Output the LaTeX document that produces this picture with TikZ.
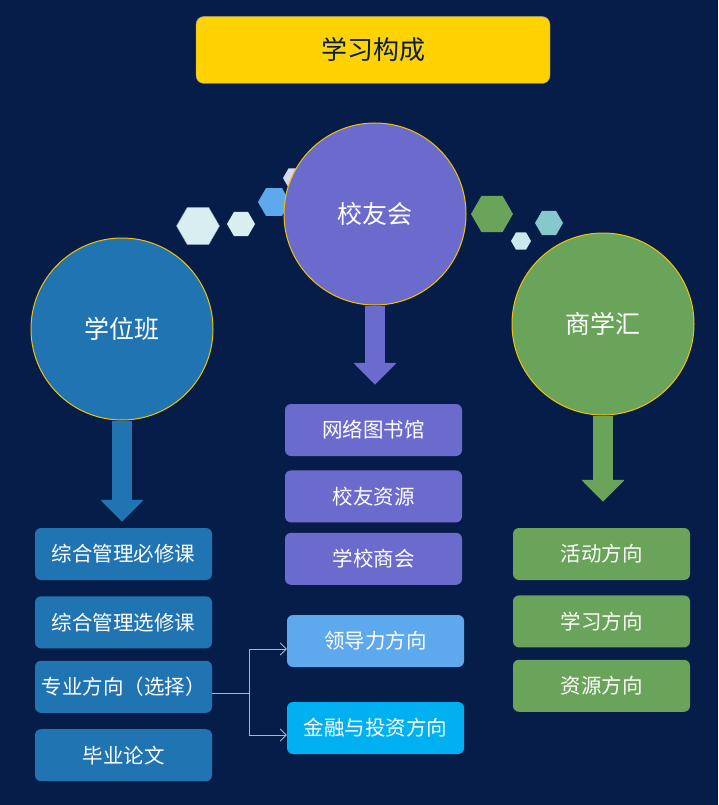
\documentclass[tikz,border=0pt]{standalone}
\usepackage{fontspec}
\setmainfont{Noto Sans CJK SC}
\usetikzlibrary{arrows.meta,positioning,shapes.geometric}
\definecolor{Navy}{HTML}{071D49}
\definecolor{Gold}{HTML}{F2C200}
\definecolor{Title}{HTML}{FFD200}
\definecolor{Frame}{HTML}{8A9BB0}
\definecolor{Degree}{HTML}{2174B2}
\definecolor{Alumni}{HTML}{6B6BCD}
\definecolor{Biz}{HTML}{6AA35A}
\definecolor{Lead}{HTML}{5EA8EE}
\definecolor{Fin}{HTML}{00B0F0}
\definecolor{Wire}{HTML}{A9B9CB}
\definecolor{Ice}{HTML}{D8EEF0}
\definecolor{Teal}{HTML}{86C8CC}
\definecolor{Lilac}{HTML}{D8D8F0}
\tikzset{
  banner/.style={draw=Frame,fill=Title,rounded corners=8pt,minimum width=354pt,
    minimum height=67pt,text=Navy,font=\fontsize{26}{30}\selectfont},
  club/.style={circle,draw=Gold,line width=1pt,minimum size=182pt,inner sep=0pt,
    text=white,font=\fontsize{25}{28}\selectfont},
  item/.style={rounded corners=6pt,minimum width=177pt,minimum height=52pt,
    inner sep=0pt,text=white,font=\fontsize{20.5}{24}\selectfont},
  hexa/.style={regular polygon,regular polygon sides=6,inner sep=0pt},
  bigarrow/.style={line width=20pt,-{Triangle[width=42pt,length=22pt]}},
  wire/.style={draw=Wire,line width=0.8pt},
  branch/.style={wire,-{Straight Barb[length=6pt,width=12pt]}}
}
\begin{document}
\begin{tikzpicture}[x=1pt,y=-1pt]
  \fill[Navy] (0,0) rectangle (718,805);
  \useasboundingbox (0,0) rectangle (718,805);
  \node[banner] (title) at (373,50) {学习构成};
  % hexagons
  \node[hexa,fill=Ice,draw=Frame,minimum size=43pt] (hexA) at (198,226) {};
  \node[hexa,fill=Ice,minimum size=28pt] (hexB) at (241,224) {};
  \node[hexa,fill=Lead,minimum size=32pt] (hexC) at (274,202) {};
  \node[hexa,fill=Lilac,minimum size=22pt] (hexD) at (294,178) {};
  \node[hexa,fill=Biz,minimum size=42pt] (hexE) at (492,214) {};
  \node[hexa,fill=Teal,minimum size=28pt] (hexF) at (549,223) {};
  \node[hexa,fill=Ice!85!Teal,minimum size=20pt] (hexG) at (521,241) {};
  % circles
  \node[club,fill=Degree] (xwb) at (122,329) {学位班};
  \node[club,fill=Alumni] (xyh) at (375,214) {校友会};
  \node[club,fill=Biz] (sxh) at (603,324) {商学汇};
  % left column
  \node[item,fill=Degree] (bxk) at (123.5,554) {综合管理必修课};
  \node[item,fill=Degree,below=16pt of bxk] (xxk) {综合管理选修课};
  \node[item,fill=Degree,below=12pt of xxk] (zyfx) {专业方向（选择）};
  \node[item,fill=Degree,below=16pt of zyfx] (bylw) {毕业论文};
  % middle column
  \node[item,fill=Alumni] (wlts) at (373.5,430) {网络图书馆};
  \node[item,fill=Alumni,below=14pt of wlts] (xyzy) {校友资源};
  \node[item,fill=Alumni,below=10pt of xyzy] (xxsh) {学校商会};
  \node[item,fill=Lead] (ldl) at (375.5,641) {领导力方向};
  \node[item,fill=Fin] (jrtz) at (375.5,728) {金融与投资方向};
  % right column
  \node[item,fill=Biz] (hdfx) at (601.5,554) {活动方向};
  \node[item,fill=Biz,below=15pt of hdfx] (xxfx) {学习方向};
  \node[item,fill=Biz,below=12pt of xxfx] (zyfx2) {资源方向};
  % block arrows
  \draw[bigarrow,Degree,shorten >=6pt] (xwb.south) -- (xwb.south |- bxk.north);
  \draw[bigarrow,Alumni,shorten >=19pt] (xyh.south) -- (xyh.south |- wlts.north);
  \draw[bigarrow,Biz,shorten >=26pt] (sxh.south) -- (sxh.south |- hdfx.north);
  % branch
  \coordinate (split) at (249,693);
  \draw[wire] (zyfx.east |- split) -- (split);
  \draw[branch] (split) |- ([yshift=-8pt]ldl.west);
  \draw[branch] (split) |- ([yshift=-7pt]jrtz.west);
\end{tikzpicture}
\end{document}
